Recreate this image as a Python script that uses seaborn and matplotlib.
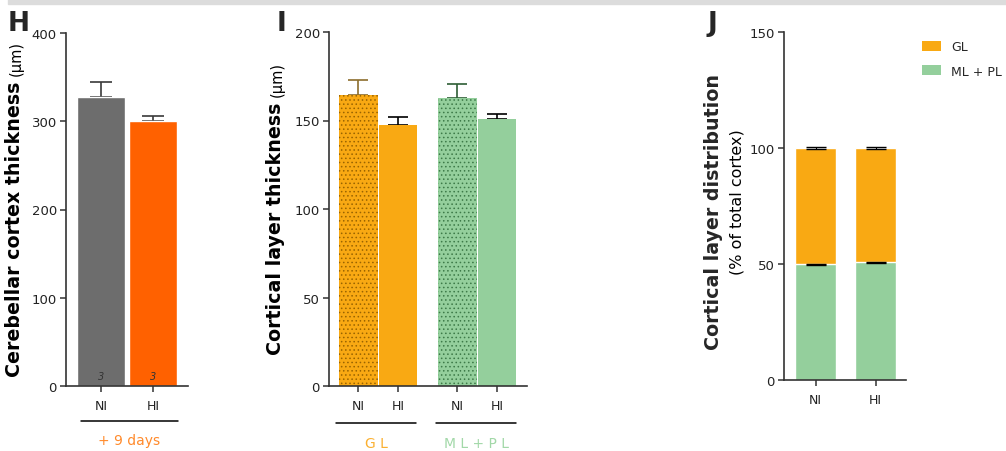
import matplotlib
matplotlib.use("Agg")
import matplotlib.pyplot as plt
import seaborn as sns
import pandas as pd
from matplotlib.patches import Rectangle, Patch

# ---------------- data ----------------
h_groups = ["NI", "HI"]
h_mean = [328, 300]
h_sem = [17, 6]
h_n = [3, 3]
h_colors = ["#6d6d6d", "#ff6100"]

i_layers = ["GL", "ML + PL"]
i_conditions = ["NI", "HI"]
i_gl_mean = [164.5, 147.5]
i_gl_sem = [8.5, 4.3]
i_ml_mean = [162.7, 150.8]
i_ml_sem = [7.8, 2.7]

j_groups = ["NI", "HI"]
j_ml_pct = [49.8, 50.7]
j_gl_pct = [50.2, 49.3]
j_ml_sem = [0.3, 0.35]
j_gl_sem = [0.3, 0.3]

# ---------------- style ----------------
sns.set_style("ticks")
plt.rcParams["font.family"] = ["DejaVu Sans"]
plt.rcParams["hatch.linewidth"] = 0.6

ORANGE = "#f9a913"
GREEN = "#94cf9c"
SPINE = "#333333"
LBL = 13.7

W, H = 1006, 452
fig = plt.figure(figsize=(W / 100, H / 100), dpi=100)

# top grey band
fig.patches.append(Rectangle((8 / W, 1 - 5 / H), 1, 5 / H, transform=fig.transFigure,
                             color="#dcdcdc", zorder=0))


def px_axes(left, top, right, bottom):
    return fig.add_axes([left / W, 1 - bottom / H, (right - left) / W, (bottom - top) / H])


def style_axis(ax):
    sns.despine(ax=ax)
    for s in ("left", "bottom"):
        ax.spines[s].set_color(SPINE)
        ax.spines[s].set_linewidth(1.2)
    ax.tick_params(axis="y", length=4.5, width=1.1, color=SPINE, labelsize=9.5,
                   labelcolor="#222222", pad=2)
    ax.tick_params(axis="x", length=4, width=1.1, color=SPINE, labelsize=9,
                   labelcolor="#222222", pad=5)
    ax.set_xlabel("")


def bracket(ax, x0, x1, y, label, color):
    tr = ax.get_xaxis_transform()
    ax.plot([x0, x1], [y, y], transform=tr, color="black", lw=1.1, clip_on=False)
    ax.text((x0 + x1) / 2, y - 0.055, label, transform=tr, ha="center", va="center",
            color=color, fontsize=10, clip_on=False)


def two_part_ylabel(ax, bold, normal, x, y, size):
    lab = ax.set_ylabel(bold, fontsize=size, fontweight="bold", color="black")
    ax.yaxis.set_label_coords(x, y)
    lab.set_horizontalalignment("left")
    ax.annotate(normal, xy=(0.5, 1.0), xycoords=lab, xytext=(1.0, 4),
                textcoords="offset points", rotation=90, ha="center", va="bottom",
                fontsize=10.5, color="black")


# ================= Panel H =================
axH = px_axes(66, 34, 188, 387)
dfH = pd.DataFrame({"group": h_groups, "value": h_mean})
sns.barplot(data=dfH, x="group", y="value", hue="group", palette=h_colors,
            order=h_groups, hue_order=h_groups, width=0.92, saturation=1,
            errorbar=None, legend=False, ax=axH, zorder=2)
centersH = [p.get_x() + p.get_width() / 2 for p in axH.patches]
axH.errorbar(centersH, h_mean, yerr=[[0, 0], h_sem], fmt="none", ecolor="#3a3a3a",
             elinewidth=1.2, capsize=8, capthick=1.2, zorder=1)
for cx, n in zip(centersH, h_n):
    axH.text(cx, 6, str(n), ha="center", va="bottom", fontsize=7, style="italic",
             color="#333333", zorder=3)
axH.set_ylim(0, 400)
axH.set_yticks([0, 100, 200, 300, 400])
axH.set_xlim(-0.673, 1.673)
style_axis(axH)
two_part_ylabel(axH, "Cerebellar cortex thickness", "(µm)", -0.345, 0.028, LBL)
bracket(axH, -0.385, 1.48, -0.099, "+ 9 days", "#ff8a2b")
fig.text(8 / W, 1 - 31 / H, "H", fontsize=19, fontweight="bold", ha="left", va="baseline")

# ================= Panel I =================
axI = px_axes(329, 33, 527, 387)
rows = []
for lay, means in zip(i_layers, [i_gl_mean, i_ml_mean]):
    for cond, m in zip(i_conditions, means):
        rows.append({"layer": lay, "condition": cond, "value": m})
dfI = pd.DataFrame(rows)
sns.barplot(data=dfI, x="layer", y="value", hue="condition", order=i_layers,
            hue_order=i_conditions, width=0.8, saturation=1, errorbar=None,
            legend=False, ax=axI, zorder=2)
layer_cols = [ORANGE, GREEN]
hatch_cols = ["#9a6400", "#3d7a48"]
err_cols_ni = ["#8c6d2c", "#2e5e35"]
sems = [i_gl_sem, i_ml_sem]
means_all = [i_gl_mean, i_ml_mean]
tick_pos, tick_lab = [], []
for p in axI.patches:
    cx = p.get_x() + p.get_width() / 2
    li = int(round(cx))
    ci = 0 if cx < li else 1
    p.set_width(p.get_width() - 0.01)
    p.set_x(cx - p.get_width() / 2)
    p.set_facecolor(layer_cols[li])
    if ci == 0:
        p.set_hatch("....")
        p.set_edgecolor(hatch_cols[li])
        p.set_linewidth(0)
        ecol = err_cols_ni[li]
    else:
        p.set_edgecolor("none")
        ecol = "black"
    axI.errorbar([cx], [means_all[li][ci]], yerr=[[0], [sems[li][ci]]], fmt="none",
                 ecolor=ecol, elinewidth=1.2, capsize=7, capthick=1.2, zorder=1)
    tick_pos.append(cx)
    tick_lab.append(i_conditions[ci])
order = sorted(range(len(tick_pos)), key=lambda k: tick_pos[k])
axI.set_xticks([tick_pos[k] for k in order])
axI.set_xticklabels([tick_lab[k] for k in order])
axI.set_ylim(0, 200)
axI.set_yticks([0, 50, 100, 150, 200])
axI.set_xlim(-0.495, 1.505)
style_axis(axI)
two_part_ylabel(axI, "Cortical layer thickness", "(µm)", -0.222, 0.09, LBL)
bracket(axI, -0.424, 0.384, -0.105, "G L", "#fbb030")
bracket(axI, 0.586, 1.394, -0.105, "M L + P L", "#a2d8a8")
fig.text(277 / W, 1 - 31 / H, "I", fontsize=19, fontweight="bold", ha="left", va="baseline")

# ================= Panel J =================
axJ = px_axes(784, 33, 906, 381)
j_total = [m + g for m, g in zip(j_ml_pct, j_gl_pct)]
dfJ = pd.DataFrame({"group": j_groups, "total": j_total, "ml": j_ml_pct})
sns.barplot(data=dfJ, x="group", y="total", order=j_groups, color=ORANGE,
            width=0.68, saturation=1, errorbar=None, ax=axJ, zorder=2)
sns.barplot(data=dfJ, x="group", y="ml", order=j_groups, color=GREEN,
            width=0.68, saturation=1, errorbar=None, ax=axJ, zorder=2)
centersJ = [p.get_x() + p.get_width() / 2 for p in axJ.patches[:2]]
axJ.errorbar(centersJ, j_total, yerr=j_gl_sem, fmt="none", ecolor="black",
             elinewidth=0.8, capsize=7, capthick=1.0, zorder=3)
axJ.errorbar(centersJ, j_ml_pct, yerr=j_ml_sem, fmt="none", ecolor="black",
             elinewidth=0.8, capsize=7, capthick=1.0, zorder=3)
axJ.set_ylim(0, 150)
axJ.set_yticks([0, 50, 100, 150])
axJ.set_xlim(-0.525, 1.508)
style_axis(axJ)
axJ.set_ylabel("Cortical layer distribution", fontsize=LBL, fontweight="bold")
axJ.yaxis.set_label_coords(-0.50, 0.487)
axJ.text(-0.32, 0.513, "(% of total cortex)", transform=axJ.transAxes, rotation=90,
         ha="right", va="center", fontsize=11.5, color="black")
handles = [Patch(facecolor=ORANGE, edgecolor="none", label="GL"),
           Patch(facecolor=GREEN, edgecolor="none", label="ML + PL")]
fig.legend(handles=handles, loc="upper left", bbox_to_anchor=(911 / W, 1 - 30 / H),
           frameon=False, fontsize=9, handlelength=1.5, handleheight=0.8,
           handletextpad=0.8, labelspacing=0.9)
fig.text(707 / W, 1 - 31 / H, "J", fontsize=19, fontweight="bold", ha="left", va="baseline")

fig.savefig("out.png", dpi=100)
